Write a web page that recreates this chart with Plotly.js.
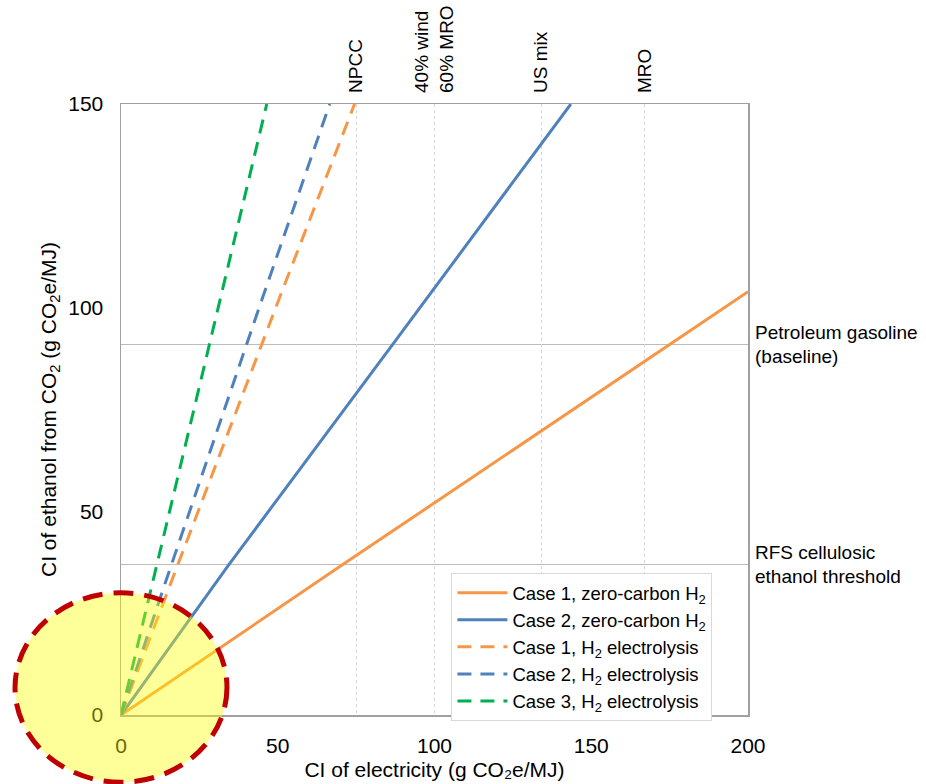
<!DOCTYPE html>
<html>
<head>
<meta charset="utf-8">
<script src="https://cdn.plot.ly/plotly-3.0.1.min.js"></script>
<style>html,body{margin:0;padding:0;background:#fff;}#chart{width:926px;height:784px;}</style>
</head>
<body>
<div id="chart"></div>
<script>
// ---- data ----
const xTickVals = [0, 50, 100, 150, 200];
const yTickVals = [0, 50, 100, 150];

const gridX = [75, 100, 134, 167];
const gridLabels = ['NPCC', '40% wind<br>60% MRO', 'US mix', 'MRO'];

const thresholdY = [91, 37];
const thresholdLabels = ['Petroleum gasoline<br>(baseline)', 'RFS cellulosic<br>ethanol threshold'];

const case1ZeroX = [0, 70.5, 200];
const case1ZeroY = [0, 36.8, 103.9];
const case2ZeroX = [0, 34.3, 86.5, 143.5];
const case2ZeroY = [0, 36.8, 90.8, 150];
const case1ElecX = [0, 15.9, 50.3, 74.5];
const case1ElecY = [0, 32.4, 101.9, 150];
const case2ElecX = [0, 14.1, 44.9, 66.6];
const case2ElecY = [0, 32.4, 101.9, 150];
const case3ElecX = [0, 10.0, 31.6, 46.5];
const case3ElecY = [0, 32.4, 101.9, 150];

const seriesNames = [
  'Case 1, zero-carbon H<sub>2</sub>',
  'Case 2, zero-carbon H<sub>2</sub>',
  'Case 1, H<sub>2</sub> electrolysis',
  'Case 2, H<sub>2</sub> electrolysis',
  'Case 3, H<sub>2</sub> electrolysis'
];

// ---- styling ----
const ORANGE = '#F79646', BLUE = '#4F81BD', GREEN = '#00B050';
const DASH = '14px,9px';
const FONT = 'Liberation Sans, Arial, sans-serif';

function line(x, y, name, color, dash) {
  return {x: x, y: y, name: name, type: 'scatter', mode: 'lines',
          line: {color: color, width: 3, dash: dash || 'solid'}, hoverinfo: 'skip'};
}

const traces = [
  line(case1ZeroX, case1ZeroY, seriesNames[0], ORANGE),
  line(case2ZeroX, case2ZeroY, seriesNames[1], BLUE),
  line(case1ElecX, case1ElecY, seriesNames[2], ORANGE, DASH),
  line(case2ElecX, case2ElecY, seriesNames[3], BLUE, DASH),
  line(case3ElecX, case3ElecY, seriesNames[4], GREEN, DASH),
  // empty helper traces so the overlaid reference axes (grid lines + labels) get drawn
  {x: [], y: [], xaxis: 'x2', yaxis: 'y', type: 'scatter', mode: 'lines', showlegend: false, hoverinfo: 'skip'},
  {x: [], y: [], xaxis: 'x', yaxis: 'y2', type: 'scatter', mode: 'lines', showlegend: false, hoverinfo: 'skip'}
];

const layout = {
  width: 926, height: 784,
  margin: {l: 121, r: 178, t: 104, b: 69},
  paper_bgcolor: '#fff', plot_bgcolor: 'rgba(0,0,0,0)',
  font: {family: FONT, size: 19, color: '#000'},
  showlegend: true,
  xaxis: {
    range: [0, 200], tickvals: xTickVals, ticktext: xTickVals.map(String),
    showgrid: false, zeroline: false, showline: true, linecolor: '#a0a0a0', linewidth: 1.5,
    mirror: true, ticks: '', ticklabelstandoff: 11,
    tickfont: {size: 21, color: '#000'},
    title: {text: 'CI of electricity (g CO\u2082e/MJ)', font: {size: 21, color: '#000'}, standoff: 6}
  },
  yaxis: {
    range: [0, 150], tickvals: yTickVals, ticktext: yTickVals.map(String),
    showgrid: false, zeroline: false, showline: true, linecolor: '#a0a0a0', linewidth: 1.5,
    mirror: true, ticks: '', ticklabelstandoff: 12,
    tickfont: {size: 21, color: '#000'},
    title: {text: 'CI of ethanol from CO<sub>2</sub> (g CO<sub>2</sub>e/MJ)', font: {size: 21, color: '#000'}, standoff: 6}
  },
  xaxis2: {
    overlaying: 'x', side: 'top', anchor: 'y', range: [0, 200],
    tickvals: gridX, ticktext: gridLabels, tickangle: -90,
    showgrid: true, gridcolor: '#d4d4d4', gridwidth: 1, griddash: 'dot',
    showline: false, zeroline: false, ticks: '', ticklabelstandoff: 10,
    tickfont: {size: 19, color: '#000'}
  },
  yaxis2: {
    overlaying: 'y', side: 'right', anchor: 'x', range: [0, 150],
    tickvals: thresholdY, ticktext: thresholdLabels,
    showgrid: true, gridcolor: '#bcbcbc', gridwidth: 1.3,
    showline: false, zeroline: false, ticks: '', ticklabelstandoff: 6,
    tickfont: {size: 19, color: '#000'}
  },
  legend: {
    x: 0.527, y: 0.232, xanchor: 'left', yanchor: 'top',
    bgcolor: '#fff', bordercolor: '#d9d9d9', borderwidth: 1,
    font: {size: 18.5, color: '#000'}, tracegroupgap: 0, itemwidth: 50
  },
  shapes: [{
    type: 'circle', xref: 'paper', yref: 'paper', layer: 'above',
    x0: -0.169, x1: 0.169, y0: -0.11, y1: 0.2,
    fillcolor: 'rgba(255,255,0,0.4)',
    line: {color: '#C00000', width: 5, dash: '20px,11px'}
  }]
};

Plotly.newPlot('chart', traces, layout, {displayModeBar: false, staticPlot: true});
</script>
</body>
</html>
